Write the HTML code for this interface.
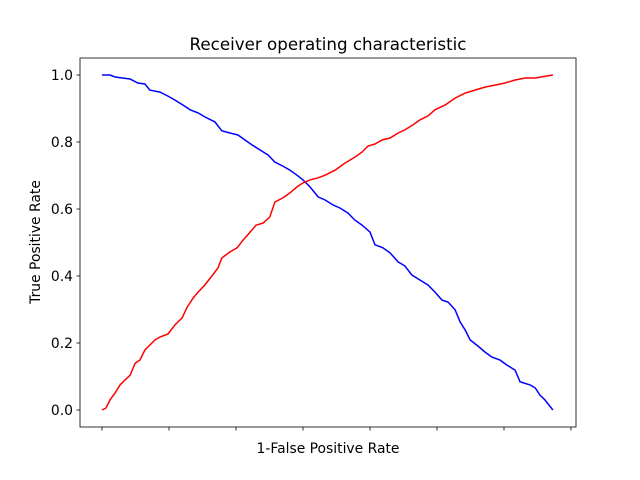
<!DOCTYPE html>
<html><head><meta charset="utf-8"><style>
body{margin:0;background:#fff}
svg{display:block;font-family:"DejaVu Sans","Liberation Sans",sans-serif}
</style></head><body>
<svg id="chart" width="640" height="480">
<rect width="640" height="480" fill="#fff"/>
<text x="328" y="50" text-anchor="middle" font-size="16.7">Receiver operating characteristic</text>
<g id="plot"></g>
<text x="328" y="453" text-anchor="middle" font-size="13.9">1-False Positive Rate</text>
<text transform="translate(40,242) rotate(-90)" text-anchor="middle" font-size="13.9">True Positive Rate</text>
</svg>
<script>
const blueX=[0,2.4,3.9,8.4,10.7,12.8,14.3,17.3,19.7,21.8,24.2,26.3,28.7,30.7,33.7,35.8,38.2,40.6,42.7,44.8,47.2,49.6,51.6,54,56.1,58.2,60,62.1,64.5,66.6,69,71,73.4,75.5,77.6,80,81.5,83.9,86,88.4,90.4,92.5,94.9,97.3,99.4,101.5,103.3,105.4,106.9,108.4,109.9,112.2,114.3,116.4,118.8,120.9,123.3,124.8,127.8,129.3,130.7,132.2,134.6];
const blueY=[1,1,.994,.988,.976,.973,.955,.949,.937,.925,.91,.896,.887,.875,.86,.833,.827,.821,.806,.791,.776,.761,.74,.728,.716,.701,.687,.666,.636,.627,.612,.603,.588,.567,.552,.531,.493,.484,.469,.442,.43,.403,.388,.373,.352,.328,.322,.299,.263,.239,.209,.191,.173,.158,.149,.134,.119,.084,.075,.066,.045,.03,0];
const redX=[0,1.2,2.4,3.9,5.4,6.9,8.4,9.9,11.3,12.8,14.3,15.8,17.3,19.7,21.8,23.9,25.4,27.2,28.7,30.7,32.8,34.6,35.8,38.2,40.3,42.1,44.2,46,48.1,50.1,51.6,54,56.1,58.2,60,62.1,64.5,66.6,69.6,72.5,75.5,77.6,79.4,81.5,83.6,86,88.4,90.4,92.8,94.9,97.3,99.4,102.4,105.4,108.4,111.3,114.3,117.3,120.3,123.3,126.3,129.3,132.8,134.6];
const redY=[0,.006,.03,.051,.075,.09,.104,.14,.149,.179,.194,.209,.218,.227,.254,.275,.307,.334,.352,.373,.4,.424,.454,.472,.484,.507,.531,.552,.558,.576,.621,.633,.648,.666,.678,.687,.693,.701,.716,.737,.755,.77,.788,.794,.806,.812,.827,.836,.851,.866,.878,.896,.91,.931,.946,.955,.964,.97,.976,.985,.991,.991,.997,1];
const xTicks=[0,20,40,60,80,100,120,140];
const yTicks=[0,0.2,0.4,0.6,0.8,1.0];
const yTickLabels=["0.0","0.2","0.4","0.6","0.8","1.0"];

const L=80,R=576,T=58,B=427;
const sx=v=>102+v*3.35;
const sy=v=>410-v*335;
const NS="http://www.w3.org/2000/svg";
const g=document.getElementById('plot');
function mk(t,a){const e=document.createElementNS(NS,t);for(const k in a)e.setAttribute(k,a[k]);g.appendChild(e);return e;}
function line(xs,ys,c,name){
  const p=mk('path',{d:xs.map((x,i)=>(i?'L':'M')+sx(x).toFixed(1)+','+sy(ys[i]).toFixed(1)).join(''),fill:'none',stroke:c,'stroke-width':1.5});
  
  
}
line(blueX,blueY,'#0000ff','blue-curve');
line(redX,redY,'#ff0000','red-curve');
const frame=mk('rect',{x:L,y:T,width:R-L,height:B-T,fill:'none',stroke:'#000','stroke-width':0.8});


xTicks.forEach(v=>{
  const t=mk('line',{x1:sx(v),x2:sx(v),y1:B,y2:B+3.5,stroke:'#000','stroke-width':0.8});
  
  
});
yTicks.forEach((v,i)=>{
  const t=mk('line',{x1:L-3.5,x2:L,y1:sy(v),y2:sy(v),stroke:'#000','stroke-width':0.8});
  
  
  const tx=mk('text',{x:L-7,y:sy(v)+5,'text-anchor':'end','font-size':13.9});
  tx.textContent=yTickLabels[i];
  
  
});
</script>
</body></html>
